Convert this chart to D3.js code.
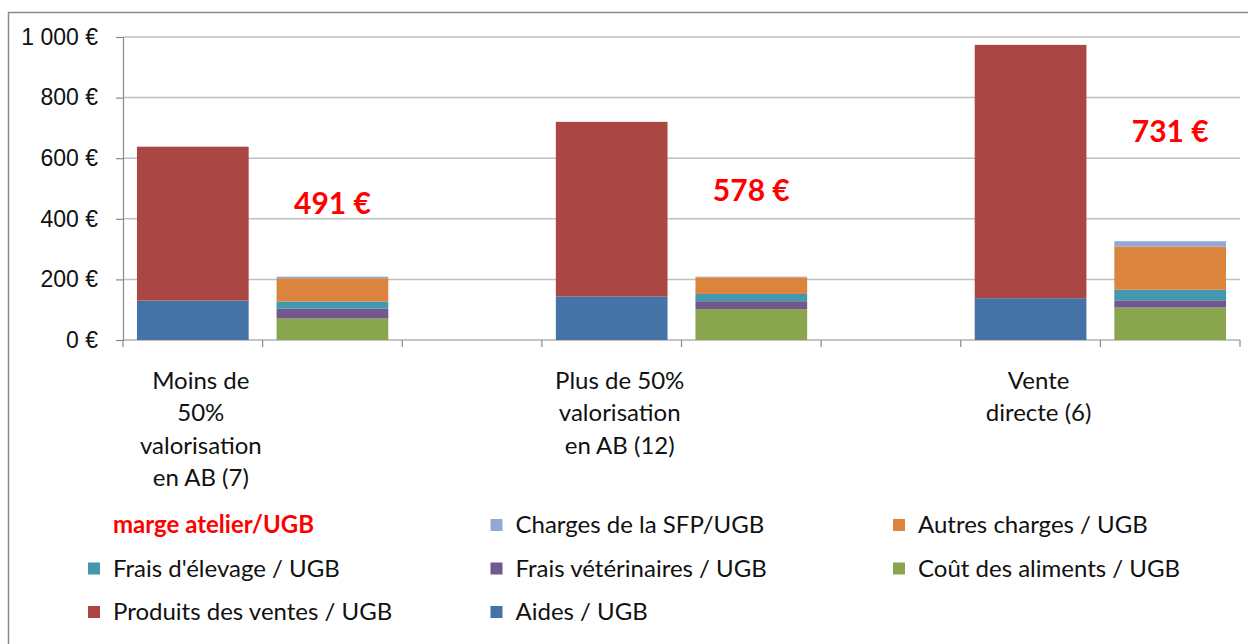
<!DOCTYPE html>
<html>
<head>
<meta charset="utf-8">
<script src="https://cdn.jsdelivr.net/npm/d3@7"></script>
<style>
  body { margin: 0; background: #fff; }
  svg { display: block; font-family: Lato, "Open Sans", sans-serif; }
</style>
</head>
<body>
<div id="chart"></div>
<script>
// slots on the x axis: produits bar, charges bar, empty gap, ...
const slots = ["p1", "c1", "g1", "p2", "c2", "g2", "p3", "c3"];
const groupLabels = [
  ["Moins de", "50%", "valorisation", "en AB (7)"],
  ["Plus de 50%", "valorisation", "en AB (12)"],
  ["Vente", "directe (6)"]
];
const groupSlots = ["p1", "p2", "p3"];
const chargeSlots = ["c1", "c2", "c3"];

// values per UGB (euros), one per slot
const aides        = [130, 0, 0, 144, 0, 0, 138, 0];
const produits     = [508, 0, 0, 576, 0, 0, 836, 0];
const aliments     = [0, 71, 0, 0, 102, 0, 0, 107];
const veterinaires = [0, 33, 0, 0, 26, 0, 0, 24];
const elevage      = [0, 23, 0, 0, 24, 0, 0, 35];
const autres       = [0, 77, 0, 0, 55, 0, 0, 142];
const sfp          = [0, 5, 0, 0, 2, 0, 0, 18];

const marge = [491, 578, 731];
const margeLabelAt = [450, 493, 688]; // height (in €) where the marge label sits

const yTicks = [0, 200, 400, 600, 800, 1000];

const series = [
  {key: "aides", name: "Aides / UGB", values: aides, color: "#4572A7"},
  {key: "aliments", name: "Coût des aliments / UGB", values: aliments, color: "#89A54E"},
  {key: "veterinaires", name: "Frais vétérinaires / UGB", values: veterinaires, color: "#71588F"},
  {key: "elevage", name: "Frais d'élevage / UGB", values: elevage, color: "#4198AF"},
  {key: "autres", name: "Autres charges / UGB", values: autres, color: "#DB843D"},
  {key: "sfp", name: "Charges de la SFP/UGB", values: sfp, color: "#93A9CF"},
  {key: "produits", name: "Produits des ventes / UGB", values: produits, color: "#AA4643"}
];

// legend order as in the original
const legendOrder = ["marge", "sfp", "autres", "elevage", "veterinaires", "aliments", "produits", "aides"];

const W = 1248, H = 644;
const margin = {top: 37, right: 8, bottom: 304, left: 123};
const width = W - margin.left - margin.right;
const height = H - margin.top - margin.bottom;

const table = slots.map(function(s, i) {
  const row = {slot: s};
  series.forEach(function(d) { row[d.key] = d.values[i]; });
  return row;
});

const stack = d3.stack().keys(series.map(function(d) { return d.key; }));
const stacked = stack(table);

const x = d3.scaleBand()
  .domain(slots)
  .range([0, width])
  .paddingInner(0.2)
  .paddingOuter(0.1);

const y = d3.scaleLinear()
  .domain([0, 1000])
  .range([height, 0]);

const svg = d3.select("#chart").append("svg")
  .attr("width", W)
  .attr("height", H);

// outer chart frame
svg.append("rect")
  .attr("x", 8.5).attr("y", 12.5)
  .attr("width", W + 20).attr("height", H + 20)
  .attr("fill", "none")
  .attr("stroke", "#8a8a8a")
  .attr("stroke-width", 1.5);

const plot = svg.append("g")
  .attr("transform", "translate(" + margin.left + "," + margin.top + ")");

// gridlines
plot.append("g").attr("class", "grid")
  .selectAll("line")
  .data(yTicks.filter(function(d) { return d > 0; }))
  .join("line")
  .attr("x1", 0).attr("x2", width)
  .attr("y1", function(d) { return y(d); })
  .attr("y2", function(d) { return y(d); })
  .attr("stroke", "#c0c0c0")
  .attr("stroke-width", 1.5);

// y axis
const yAxis = d3.axisLeft(y)
  .tickValues(yTicks)
  .tickSize(7)
  .tickPadding(18)
  .tickFormat(function(d) { return d3.format(",")(d).replace(",", " ") + " €"; });

const gy = plot.append("g").call(yAxis);
gy.select(".domain").attr("stroke", "#8a8a8a").attr("stroke-width", 1.2);
gy.selectAll(".tick line").attr("stroke", "#8a8a8a").attr("stroke-width", 1.2);
gy.selectAll(".tick text")
  .attr("fill", "#111")
  .style("font-size", "23px");

// x axis: line + ticks on slot boundaries
const step = x.step();
const boundaries = d3.range(slots.length + 1).map(function(i) { return i * step; });
const gx = plot.append("g").attr("transform", "translate(0," + height + ")");
gx.append("line")
  .attr("x1", 0).attr("x2", width)
  .attr("stroke", "#8a8a8a").attr("stroke-width", 1.2);
gx.selectAll(".xt")
  .data(boundaries)
  .join("line")
  .attr("class", "xt")
  .attr("x1", function(d) { return d; }).attr("x2", function(d) { return d; })
  .attr("y1", 0).attr("y2", 7)
  .attr("stroke", "#8a8a8a").attr("stroke-width", 1.2);

// category labels (multi-line)
const catLabels = gx.selectAll(".cat")
  .data(groupLabels)
  .join("text")
  .attr("class", "cat")
  .attr("text-anchor", "middle")
  .attr("fill", "#111")
  .style("font-size", "24px")
  .attr("transform", function(d, i) {
    return "translate(" + (x(groupSlots[i]) + x.bandwidth() / 2 + 8) + ",49)";
  });
catLabels.selectAll("tspan")
  .data(function(d) { return d; })
  .join("tspan")
  .attr("x", 0)
  .attr("y", function(d, i) { return i * 32.3; })
  .text(function(d) { return d; });

// stacked bars
const colorOf = {};
series.forEach(function(d) { colorOf[d.key] = d.color; });

plot.append("g").selectAll("g")
  .data(stacked)
  .join("g")
  .attr("fill", function(d) { return colorOf[d.key]; })
  .selectAll("rect")
  .data(function(d) { return d.filter(function(v) { return v[1] - v[0] > 0; }); })
  .join("rect")
  .attr("x", function(d) { return x(d.data.slot); })
  .attr("width", x.bandwidth())
  .attr("y", function(d) { return y(d[1]); })
  .attr("height", function(d) { return y(d[0]) - y(d[1]); });

// marge labels
plot.append("g").selectAll("text")
  .data(marge)
  .join("text")
  .attr("x", function(d, i) { return x(chargeSlots[i]) + x.bandwidth() / 2; })
  .attr("y", function(d, i) { return y(margeLabelAt[i]); })
  .attr("text-anchor", "middle")
  .attr("dy", "0.35em")
  .attr("fill", "#ff0000")
  .style("font-size", "30px")
  .style("font-weight", "bold")
  .text(function(d) { return d + " €"; });

// legend
const legendItems = legendOrder.map(function(k) {
  if (k === "marge") return {key: k, name: "marge atelier/UGB", color: null};
  return series.find(function(s) { return s.key === k; });
});

const legend = svg.append("g").selectAll("g")
  .data(legendItems)
  .join("g")
  .attr("transform", function(d, i) {
    return "translate(" + (88 + (i % 3) * 402.5) + "," + (525 + Math.floor(i / 3) * 43.5) + ")";
  });

legend.filter(function(d) { return d.color; })
  .append("rect")
  .attr("x", 0).attr("y", -6)
  .attr("width", 12).attr("height", 12)
  .attr("fill", function(d) { return d.color; });

legend.append("text")
  .attr("x", 25)
  .attr("dy", "0.35em")
  .style("font-size", "24px")
  .style("font-weight", function(d) { return d.color ? null : "bold"; })
  .attr("fill", function(d) { return d.color ? "#111" : "#ff0000"; })
  .text(function(d) { return d.name; });
</script>
</body>
</html>
